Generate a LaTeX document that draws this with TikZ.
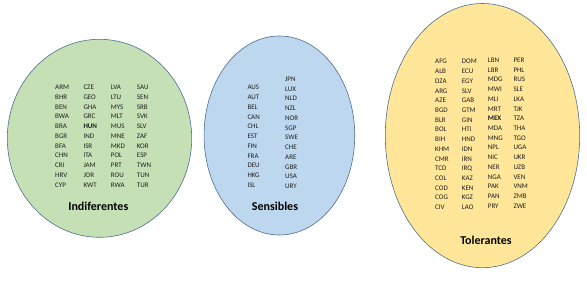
\documentclass[tikz,border=0pt]{standalone}
\usepackage{fontspec}
\setmainfont{Carlito}
\usepackage{tikz}
\usepackage{xcolor}
\usetikzlibrary{shapes.geometric, positioning}

\definecolor{indfill}{HTML}{C5E0B4}
\definecolor{sensfill}{HTML}{BDD7EE}
\definecolor{tolfill}{HTML}{FFE699}
\definecolor{rim}{HTML}{4E6E8E}
\definecolor{ink}{HTML}{1E1E1E}

\begin{document}
\begin{tikzpicture}[x=1pt, y=-1pt,
    blob/.style={ellipse, draw=rim, line width=0.6pt, inner sep=0pt},
    iso/.style={anchor=base west, inner sep=0pt, text=ink, font=\fontsize{7}{8}\selectfont},
    grp/.style={inner sep=0pt, text=black, font=\fontsize{12}{14}\selectfont\bfseries}]
  \useasboundingbox (0,0) rectangle (587,286);

  % --- Groups ---
  \node[blob, fill=indfill, minimum width=184.4pt, minimum height=198pt] (indif) at (99.5,138.3) {};
  \node[blob, fill=sensfill, minimum width=150.7pt, minimum height=199pt] (sens) at (279.4,135.5) {};
  \node[blob, fill=tolfill, minimum width=194.4pt, minimum height=264.2pt] (toler) at (482.5,135.6) {};

  % --- Country codes (name / x / first row / row step / codes) ---
  \foreach \nm/\x/\y/\dy/\lst in {
      ind1/55/87.3/9.77/{ARM,BHR,BEN,BWA,BRA,BGR,BFA,CHN,CRI,HRV,CYP},
      ind2/83.3/87.3/9.77/{CZE,GEO,GHA,GRC,\textbf{HUN},IND,ISR,ITA,JAM,JOR,KWT},
      ind3/110.7/87.3/9.77/{LVA,LTU,MYS,MLT,MUS,MNE,MKD,POL,PRT,ROU,RWA},
      ind4/136.7/87.3/9.77/{SAU,SEN,SRB,SVK,SLV,ZAF,KOR,ESP,TWN,TUN,TUR},
      sen1/247.3/87.5/9.75/{AUS,AUT,BEL,CAN,CHL,EST,FIN,FRA,DEU,HKG,ISL},
      sen2/285/79.2/9.73/{JPN,LUX,NLD,NZL,NOR,SGP,SWE,CHE,ARE,GBR,USA,URY},
      tol1/435/61.7/9.71/{AFG,ALB,DZA,ARG,AZE,BGD,BLR,BOL,BIH,KHM,CMR,TCD,COL,COD,COG,CIV},
      tol2/461.7/61.7/9.71/{DOM,ECU,EGY,SLV,GAB,GTM,GIN,HTI,HND,IDN,IRN,IRQ,KAZ,KEN,KGZ,LAO},
      tol3/487.7/60.2/9.71/{LBN,LBR,MDG,MWI,MLI,MRT,\textbf{MEX},MDA,MNG,NPL,NIC,NER,NGA,PAK,PAN,PRY},
      tol4/513.3/60.2/9.71/{PER,PHL,RUS,SLE,LKA,TJK,TZA,THA,TGO,UGA,UKR,UZB,VEN,VNM,ZMB,ZWE}}
    \foreach \c [count=\i from 0] in \lst
      \node[iso] (\nm-\i) at (\x, \y+\dy*\i+2.3) {\c};

  % --- Group names ---
  \node[grp] (lind) at (98.3,206.5) {Indiferentes};
  \node[grp] (lsens) at (275,206) {Sensibles};
  \node[grp] (ltol) at (486,240.5) {Tolerantes};
\end{tikzpicture}
\end{document}
